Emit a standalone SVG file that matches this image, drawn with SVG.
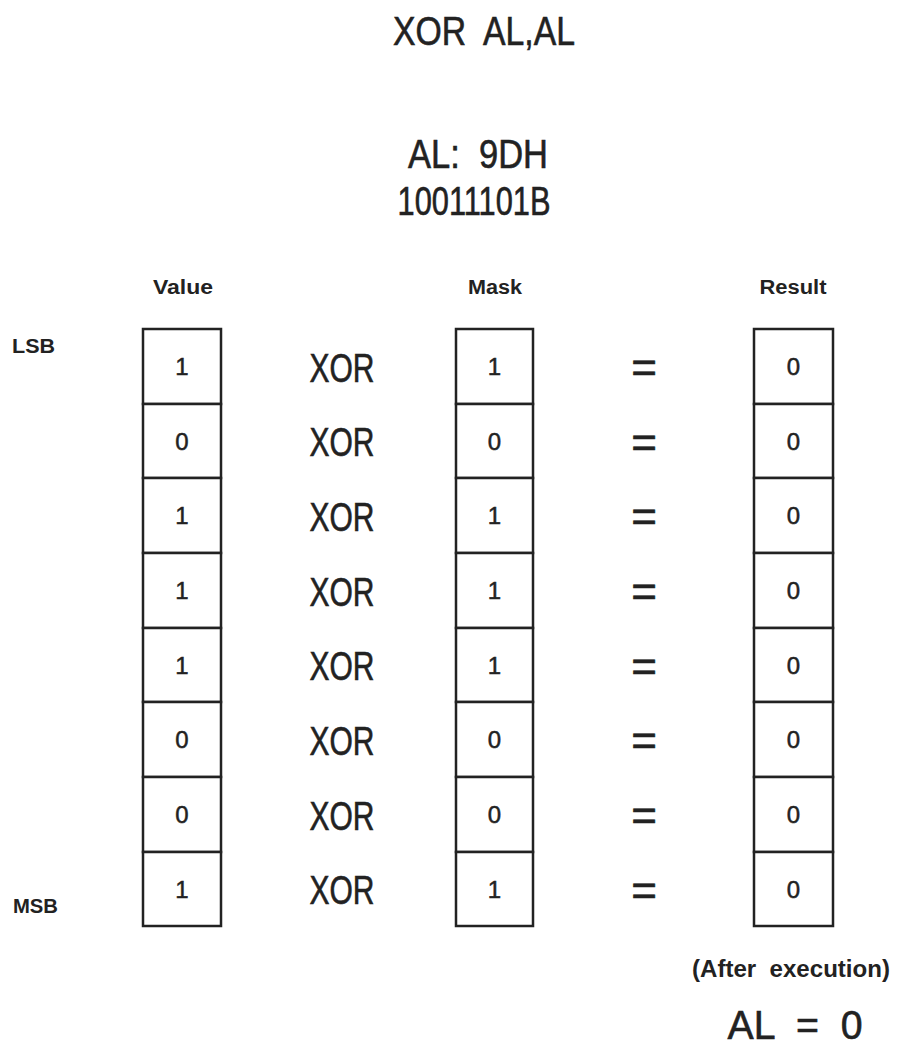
<svg xmlns="http://www.w3.org/2000/svg" width="897" height="1047" viewBox="0 0 897 1047">
<style>
text{font-family:"Liberation Sans",Arial,sans-serif;fill:#222;white-space:pre;}
.cell{fill:#fff;stroke:#222;stroke-width:2.5;}
.t{font-size:40px;text-anchor:middle;stroke:#222;stroke-width:0.6;}
.hd{font-size:20px;text-anchor:middle;font-weight:bold;}
.side{font-size:20px;font-weight:bold;}
.d{font-size:24px;text-anchor:middle;stroke:#222;stroke-width:0.5;}
.x{font-size:40px;text-anchor:middle;stroke:#222;stroke-width:0.6;}
.eq{font-size:44px;text-anchor:middle;stroke:#222;stroke-width:0.6;}
</style>
<rect width="897" height="1047" fill="#fff"/>
<g id="title">
<text class="t" x="484" y="45" textLength="182" lengthAdjust="spacingAndGlyphs" xml:space="preserve">XOR  AL,AL</text>
<text class="t" x="478" y="168" font-size="34" textLength="140" lengthAdjust="spacingAndGlyphs" xml:space="preserve">AL:  9DH</text>
<text class="t" x="474" y="215" font-size="34" textLength="153" lengthAdjust="spacingAndGlyphs">10011101B</text>
</g>
<g id="headers">
<text class="hd" x="183" y="294" textLength="60" lengthAdjust="spacingAndGlyphs">Value</text>
<text class="hd" x="495" y="294" textLength="54" lengthAdjust="spacingAndGlyphs">Mask</text>
<text class="hd" x="793" y="294" textLength="67" lengthAdjust="spacingAndGlyphs">Result</text>
<text class="side" x="12" y="353" textLength="43" lengthAdjust="spacingAndGlyphs">LSB</text>
<text class="side" x="13" y="913" textLength="45" lengthAdjust="spacingAndGlyphs">MSB</text>
</g>
<g id="value">
<rect class="cell" x="143" y="329" width="78" height="75"/><text class="d" x="182" y="375">1</text>
<rect class="cell" x="143" y="404" width="78" height="74"/><text class="d" x="182" y="450">0</text>
<rect class="cell" x="143" y="478" width="78" height="75"/><text class="d" x="182" y="524">1</text>
<rect class="cell" x="143" y="553" width="78" height="75"/><text class="d" x="182" y="599">1</text>
<rect class="cell" x="143" y="628" width="78" height="74"/><text class="d" x="182" y="674">1</text>
<rect class="cell" x="143" y="702" width="78" height="75"/><text class="d" x="182" y="748">0</text>
<rect class="cell" x="143" y="777" width="78" height="75"/><text class="d" x="182" y="823">0</text>
<rect class="cell" x="143" y="852" width="78" height="74"/><text class="d" x="182" y="898">1</text>
</g>
<g id="xor">
<text class="x" x="342" y="382" textLength="65" lengthAdjust="spacingAndGlyphs">XOR</text>
<text class="x" x="342" y="456" textLength="65" lengthAdjust="spacingAndGlyphs">XOR</text>
<text class="x" x="342" y="531" textLength="65" lengthAdjust="spacingAndGlyphs">XOR</text>
<text class="x" x="342" y="606" textLength="65" lengthAdjust="spacingAndGlyphs">XOR</text>
<text class="x" x="342" y="680" textLength="65" lengthAdjust="spacingAndGlyphs">XOR</text>
<text class="x" x="342" y="755" textLength="65" lengthAdjust="spacingAndGlyphs">XOR</text>
<text class="x" x="342" y="830" textLength="65" lengthAdjust="spacingAndGlyphs">XOR</text>
<text class="x" x="342" y="904" textLength="65" lengthAdjust="spacingAndGlyphs">XOR</text>
</g>
<g id="mask">
<rect class="cell" x="456" y="329" width="77" height="75"/><text class="d" x="494.5" y="375">1</text>
<rect class="cell" x="456" y="404" width="77" height="74"/><text class="d" x="494.5" y="450">0</text>
<rect class="cell" x="456" y="478" width="77" height="75"/><text class="d" x="494.5" y="524">1</text>
<rect class="cell" x="456" y="553" width="77" height="75"/><text class="d" x="494.5" y="599">1</text>
<rect class="cell" x="456" y="628" width="77" height="74"/><text class="d" x="494.5" y="674">1</text>
<rect class="cell" x="456" y="702" width="77" height="75"/><text class="d" x="494.5" y="748">0</text>
<rect class="cell" x="456" y="777" width="77" height="75"/><text class="d" x="494.5" y="823">0</text>
<rect class="cell" x="456" y="852" width="77" height="74"/><text class="d" x="494.5" y="898">1</text>
</g>
<g id="equals">
<text class="eq" x="644" y="383">=</text>
<text class="eq" x="644" y="458">=</text>
<text class="eq" x="644" y="532">=</text>
<text class="eq" x="644" y="607">=</text>
<text class="eq" x="644" y="682">=</text>
<text class="eq" x="644" y="756">=</text>
<text class="eq" x="644" y="831">=</text>
<text class="eq" x="644" y="906">=</text>
</g>
<g id="result">
<rect class="cell" x="754" y="329" width="79" height="75"/><text class="d" x="793.5" y="375">0</text>
<rect class="cell" x="754" y="404" width="79" height="74"/><text class="d" x="793.5" y="450">0</text>
<rect class="cell" x="754" y="478" width="79" height="75"/><text class="d" x="793.5" y="524">0</text>
<rect class="cell" x="754" y="553" width="79" height="75"/><text class="d" x="793.5" y="599">0</text>
<rect class="cell" x="754" y="628" width="79" height="74"/><text class="d" x="793.5" y="674">0</text>
<rect class="cell" x="754" y="702" width="79" height="75"/><text class="d" x="793.5" y="748">0</text>
<rect class="cell" x="754" y="777" width="79" height="75"/><text class="d" x="793.5" y="823">0</text>
<rect class="cell" x="754" y="852" width="79" height="74"/><text class="d" x="793.5" y="898">0</text>
</g>
<g id="footer">
<text x="791" y="977" font-size="24" font-weight="bold" text-anchor="middle" textLength="198" lengthAdjust="spacingAndGlyphs" xml:space="preserve">(After  execution)</text>
<text x="795" y="1039" font-size="40" text-anchor="middle" stroke="#222" stroke-width="0.6" textLength="135" lengthAdjust="spacingAndGlyphs" xml:space="preserve">AL  =  0</text>
</g>
</svg>
